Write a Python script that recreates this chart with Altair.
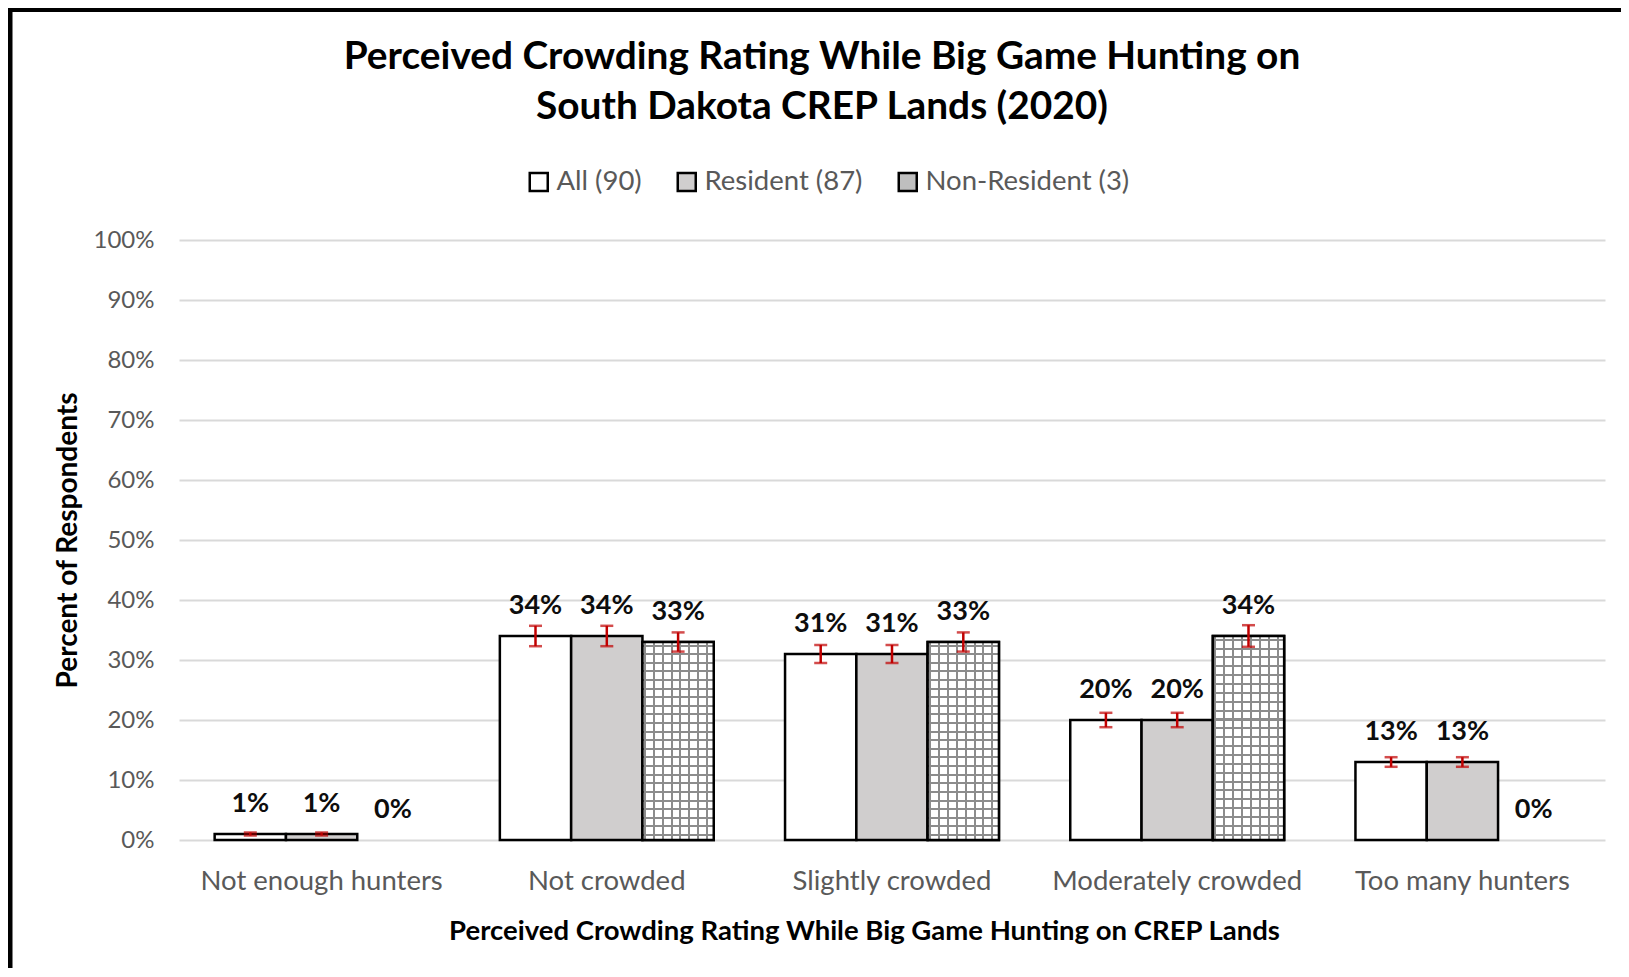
import altair as alt
import pandas as pd

categories = ["Not enough hunters", "Not crowded", "Slightly crowded",
              "Moderately crowded", "Too many hunters"]
series = ["All (90)", "Resident (87)", "Non-Resident (3)"]
all_vals = [1, 34, 31, 20, 13]
res_vals = [1, 34, 31, 20, 13]
nonres_vals = [0, 33, 33, 34, 0]
all_err = [0.25, 1.7, 1.5, 1.2, 0.8]
res_err = [0.25, 1.7, 1.5, 1.2, 0.8]
nonres_err = [0, 1.6, 1.6, 1.8, 0]
y_ticks = [0, 10, 20, 30, 40, 50, 60, 70, 80, 90, 100]

rows = []
for s, vals, errs in zip(series, [all_vals, res_vals, nonres_vals],
                         [all_err, res_err, nonres_err]):
    for c, v, e in zip(categories, vals, errs):
        rows.append({"category": c, "series": s, "value": v, "err": e,
                     "lo": v - e, "hi": v + e, "label": f"{v}%"})
df = pd.DataFrame(rows)

FONT = "Lato"
GRAY_TXT = "#595959"
HATCH = "#8C8C8C"

x_enc = alt.X("category:N", sort=categories,
              scale=alt.Scale(paddingInner=0.25, paddingOuter=0.125),
              axis=alt.Axis(title="Perceived Crowding Rating While Big Game Hunting on CREP Lands",
                            labelAngle=0, labelFont=FONT, labelFontSize=27.5,
                            labelColor=GRAY_TXT, labelPadding=49, labelLimit=0,
                            labelBaseline="alphabetic", ticks=False, tickSize=0,
                            domain=False, titleFont=FONT, titleFontSize=27.5,
                            titleFontWeight="bold", titleColor="black",
                            titleX=685, titleY=91, titleBaseline="middle",
                            titleAlign="center", titleLimit=0))
xo_enc = alt.XOffset("series:N", sort=series,
                     scale=alt.Scale(paddingInner=0, paddingOuter=0))


def y_enc(field):
    return alt.Y(f"{field}:Q", scale=alt.Scale(domain=[0, 100]),
                 axis=alt.Axis(title="Percent of Respondents", values=y_ticks,
                               labelExpr="datum.value + '%'", labelFont=FONT,
                               labelFontSize=24, labelColor=GRAY_TXT,
                               labelPadding=25, ticks=False, tickSize=0,
                               domain=False, grid=True, gridColor="#D9D9D9",
                               gridWidth=2, titleFont=FONT, titleFontSize=28,
                               titleFontWeight="bold", titleColor="black",
                               titleX=-111, titleY=300, titleAngle=270,
                               titleBaseline="middle", titleAlign="center",
                               titleLimit=0))


base = alt.Chart(df).transform_filter("datum.value > 0")

bars = base.mark_bar(stroke="black", strokeWidth=2.5).encode(
    x=x_enc, xOffset=xo_enc, y=y_enc("value"),
    fill=alt.Fill("series:N", sort=series,
                  scale=alt.Scale(domain=series, range=["#FFFFFF", "#D0CECE", "#BFBFBF"]),
                  legend=alt.Legend(orient="none", legendX=346, legendY=-72,
                                    direction="horizontal", title=None,
                                    symbolType="square", symbolSize=324,
                                    symbolStrokeColor="black", symbolStrokeWidth=2.5,
                                    labelFont=FONT, labelFontSize=27.5,
                                    labelColor=GRAY_TXT, columnPadding=30,
                                    labelOffset=4, labelLimit=0)),
)

# hatch (grid) pattern for the Non-Resident bars, built from gradient stops
n_v, w_v = 8, 0.028
v_stops = []
for i in range(n_v):
    a = (i + 0.15) / n_v
    v_stops += [alt.GradientStop(offset=a, color="#FFFFFF"),
                alt.GradientStop(offset=a, color=HATCH),
                alt.GradientStop(offset=a + w_v, color=HATCH),
                alt.GradientStop(offset=a + w_v, color="#FFFFFF")]
v_stops = [alt.GradientStop(offset=0, color="#FFFFFF")] + v_stops + \
          [alt.GradientStop(offset=1, color="#FFFFFF")]
n_h, w_h = 23, 0.01
CLEAR = "rgba(255,255,255,0)"
h_stops = []
for i in range(n_h):
    a = (i + 0.3) / n_h
    h_stops += [alt.GradientStop(offset=a, color=CLEAR),
                alt.GradientStop(offset=a, color=HATCH),
                alt.GradientStop(offset=a + w_h, color=HATCH),
                alt.GradientStop(offset=a + w_h, color=CLEAR)]
h_stops = [alt.GradientStop(offset=0, color=CLEAR)] + h_stops + \
          [alt.GradientStop(offset=1, color=CLEAR)]

nr = base.transform_filter(alt.datum.series == series[2])
vhatch = nr.mark_bar(fill=alt.LinearGradient(gradient="linear", stops=v_stops,
                                             x1=0, x2=1, y1=0, y2=0),
                     strokeWidth=0).encode(x=x_enc, xOffset=xo_enc, y=y_enc("value"))
hhatch = nr.mark_bar(fill=alt.LinearGradient(gradient="linear", stops=h_stops,
                                             x1=0, x2=0, y1=0, y2=1),
                     strokeWidth=0).encode(x=x_enc, xOffset=xo_enc, y=y_enc("value"))
outline = nr.mark_bar(fillOpacity=0, stroke="black", strokeWidth=2.5).encode(
    x=x_enc, xOffset=xo_enc, y=y_enc("value"))

eb = alt.Chart(df).transform_filter("datum.err > 0")
err_rule = eb.mark_rule(color="#C00000", strokeWidth=2.5).encode(
    x=x_enc, xOffset=xo_enc, y=y_enc("lo"), y2="hi")
cap_lo = eb.mark_tick(color="#C00000", size=13, thickness=2.5).encode(
    x=x_enc, xOffset=xo_enc, y=y_enc("lo"))
cap_hi = eb.mark_tick(color="#C00000", size=13, thickness=2.5).encode(
    x=x_enc, xOffset=xo_enc, y=y_enc("hi"))

labels = alt.Chart(df).mark_text(dy=-30, font=FONT, fontSize=27, fontWeight="bold",
                                  color="#0D0D0D", baseline="middle").encode(
    x=x_enc, xOffset=xo_enc, y=y_enc("value"), text="label:N")

frame_data = alt.Data(values=[{"f": 1}])
left_border = alt.Chart(frame_data).mark_rule(color="black", strokeWidth=5).encode(
    x=alt.value(-169), y=alt.value(-232), y2=alt.value(740))
top_border = alt.Chart(frame_data).mark_rule(color="black", strokeWidth=4).encode(
    x=alt.value(-172), x2=alt.value(1450), y=alt.value(-230))

chart = alt.layer(bars, vhatch, hhatch, outline, err_rule, cap_lo, cap_hi, labels,
                  left_border, top_border).properties(
    width=1426, height=600,
    autosize=alt.AutoSizeParams(type="none"),
    padding={"left": 171, "top": 232, "right": 16, "bottom": 128},
    title=alt.TitleParams(
        text=["Perceived Crowding Rating While Big Game Hunting on",
              "South Dakota CREP Lands (2020)"],
        font=FONT, fontSize=38.8, fontWeight="bold", color="black",
        anchor="middle", frame="group", offset=0, dx=-70, dy=121, lineHeight=50,
        limit=0),
).configure(background="white", view=alt.ViewConfig(stroke="transparent"))

chart.save("out.html", embed_options={"renderer": "svg", "actions": False})
